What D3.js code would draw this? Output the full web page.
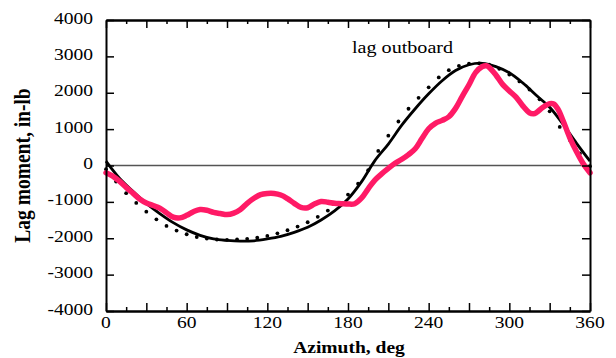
<!DOCTYPE html>
<html><head><meta charset="utf-8">
<script src="https://cdn.jsdelivr.net/npm/d3@7"></script>
<style>body{margin:0;background:#fff} svg{display:block}</style>
</head><body><svg id="c" width="616" height="358"></svg>
<script>
// ---- data ----
const xTickLabels = [0, 60, 120, 180, 240, 300, 360];
const xMajorTicks = [0, 30, 60, 90, 120, 150, 180, 210, 240, 270, 300, 330, 360];
const xMinorTicks = [15, 45, 75, 105, 135, 165, 195, 225, 255, 285, 315, 345];
const yTickLabels = [-4000, -3000, -2000, -1000, 0, 1000, 2000, 3000, 4000];

const pinkAz  = [0,5,10,15,20,25,30,35,40,45,50,55,60,65,70,75,80,85,90,95,100,105,110,115,120,125,130,135,140,145,150,155,160,165,170,175,180,185,190,195,200,205,210,215,220,225,230,235,240,245,250,255,260,265,270,275,280,283,285,290,295,300,305,310,315,318,320,325,330,333,336,340,345,350,355,360];
const pinkVal = [-200,-290,-430,-600,-760,-920,-1030,-1100,-1170,-1300,-1420,-1440,-1370,-1270,-1210,-1230,-1290,-1320,-1350,-1310,-1210,-1040,-900,-800,-770,-770,-810,-910,-1040,-1150,-1160,-1060,-990,-1010,-1040,-1050,-1060,-1050,-900,-640,-400,-230,-80,60,170,300,460,740,1010,1160,1240,1340,1570,1900,2220,2560,2720,2740,2700,2490,2230,2050,1880,1640,1450,1420,1450,1600,1700,1690,1560,1230,760,380,50,-200];

const solidAz  = [0,10,20,30,40,50,60,70,80,90,100,110,120,130,140,150,160,170,180,190,200,210,220,230,240,250,260,270,280,290,300,310,320,330,340,350,360];
const solidVal = [120,-350,-710,-1040,-1320,-1570,-1770,-1920,-2020,-2060,-2080,-2070,-2020,-1950,-1840,-1700,-1500,-1250,-920,-450,135,590,1110,1560,1970,2330,2610,2770,2810,2720,2550,2270,1930,1600,1130,610,120];

const dotAz  = [0,7.5,15,22.5,30,37.5,45,52.5,60,67.5,75,82.5,90,97.5,105,112.5,120,127.5,135,142.5,150,157.5,165,172.5,180,187.5,195,202.5,210,217.5,225,232.5,240,247.5,255,262.5,270,277.5,285,292.5,300,307.5,315,322.5,330,337.5,345,352.5,360];
const dotVal = [-100,-440,-760,-1030,-1270,-1480,-1660,-1790,-1890,-1965,-2010,-2035,-2045,-2035,-2015,-1985,-1935,-1865,-1780,-1680,-1560,-1410,-1240,-1040,-800,-500,-130,400,820,1210,1560,1860,2150,2420,2620,2740,2800,2810,2770,2660,2500,2310,2090,1820,1490,1060,700,330,-20];

const annotation = "lag outboard";
const xTitle = "Azimuth, deg";
const yTitle = "Lag moment, in-lb";

// ---- layout ----
const L = 106, R = 590, T = 20, B = 311;
const SX = 1.15;
const FONT = "'Liberation Serif','Times New Roman',serif";
const PINK = "#ff1a66";

const x = d3.scaleLinear().domain([0, 360]).range([L, R]);
const y = d3.scaleLinear().domain([-4000, 4000]).range([B, T]);
const svg = d3.select("#c");

// zero line
svg.append("line")
  .attr("x1", x(0)).attr("x2", x(360)).attr("y1", y(0)).attr("y2", y(0))
  .attr("stroke", "#555").attr("stroke-width", 1.5);

const line = d3.line().x(d => x(d[0])).y(d => y(d[1])).curve(d3.curveCatmullRom.alpha(0.5));

// solid black
svg.append("path").datum(d3.zip(solidAz, solidVal))
  .attr("d", line).attr("fill", "none").attr("stroke", "#000").attr("stroke-width", 2.8);

// dotted black
svg.append("g").selectAll("circle").data(d3.zip(dotAz, dotVal)).join("circle")
  .attr("cx", d => x(d[0])).attr("cy", d => y(d[1])).attr("r", 1.9).attr("fill", "#000");

// pink
svg.append("path").datum(d3.zip(pinkAz, pinkVal))
  .attr("d", line).attr("fill", "none").attr("stroke", PINK).attr("stroke-width", 5.5)
  .attr("stroke-linecap", "round").attr("stroke-linejoin", "round");

// ---- axes ----
function styleAxis(g) {
  g.selectAll(".domain").attr("stroke", "#000").attr("stroke-width", 2);
  g.selectAll(".tick line").attr("stroke", "#000").attr("stroke-width", 1.5);
  g.selectAll(".tick text").remove();
}
svg.append("g").attr("transform", `translate(0,${B})`)
  .call(d3.axisBottom(x).tickValues(xMajorTicks).tickSize(-8).tickSizeOuter(0).tickFormat("")).call(styleAxis);
svg.append("g").attr("transform", `translate(0,${B})`)
  .call(d3.axisBottom(x).tickValues(xMinorTicks).tickSize(-4).tickSizeOuter(0).tickFormat("")).call(styleAxis);
svg.append("g").attr("transform", `translate(0,${T})`)
  .call(d3.axisTop(x).tickValues(xMajorTicks).tickSize(-8).tickSizeOuter(0).tickFormat("")).call(styleAxis);
svg.append("g").attr("transform", `translate(0,${T})`)
  .call(d3.axisTop(x).tickValues(xMinorTicks).tickSize(-4).tickSizeOuter(0).tickFormat("")).call(styleAxis);
svg.append("g").attr("transform", `translate(${L},0)`)
  .call(d3.axisLeft(y).tickValues(yTickLabels).tickSize(-8).tickSizeOuter(0).tickFormat("")).call(styleAxis);
svg.append("g").attr("transform", `translate(${R},0)`)
  .call(d3.axisRight(y).tickValues(yTickLabels).tickSize(-8).tickSizeOuter(0).tickFormat("")).call(styleAxis);

// ---- text ----
function txt(s, tx, ty, opts = {}) {
  return svg.append("text")
    .attr("transform", `translate(${tx},${ty}) scale(${SX},1)` + (opts.rot ? ` rotate(${opts.rot})` : ""))
    .attr("text-anchor", opts.anchor || "middle")
    .attr("font-family", FONT)
    .attr("font-size", opts.size || 17)
    .attr("font-weight", opts.bold ? "bold" : "normal")
    .attr("fill", "#000")
    .text(s);
}
xTickLabels.forEach(v => txt(String(v), x(v), 328));
yTickLabels.forEach(v => txt(String(v), 93, y(v) + 3.5, { anchor: "end" }));
txt(annotation, 352, 53, { anchor: "start", size: 17.5 });
txt(xTitle, (L + R) / 2 + 1, 352.5, { bold: true });
txt(yTitle, 30, (T + B) / 2, { bold: true, rot: -90, size: 19.5 });
</script>
</body></html>
